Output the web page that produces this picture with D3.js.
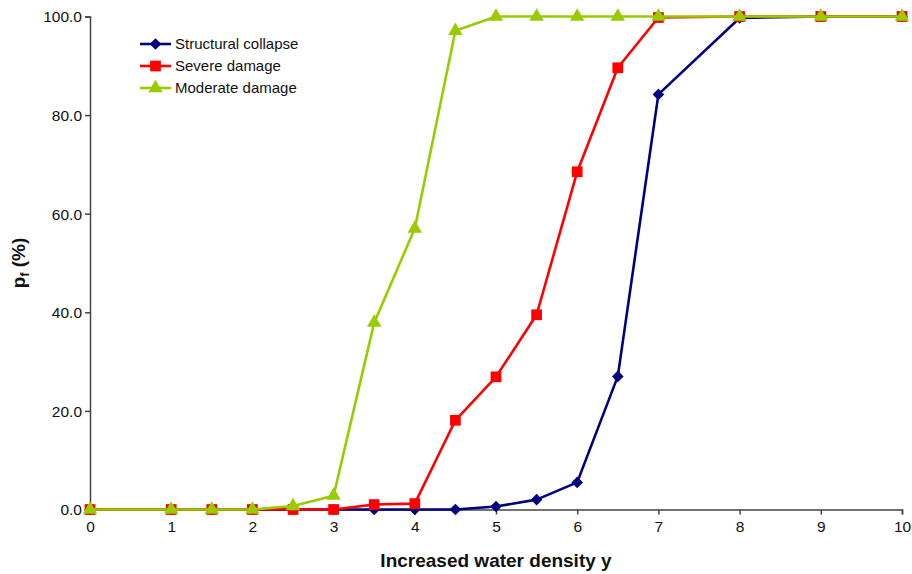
<!DOCTYPE html>
<html>
<head>
<meta charset="utf-8">
<script src="https://cdn.jsdelivr.net/npm/d3@7"></script>
<style>
    body { margin: 0; background: #fff; }
    svg { font-family: "Liberation Sans", Arial, sans-serif; }
</style>
</head>
<body>
<script>
(function() {

    var xValues = [0, 1, 1.5, 2, 2.5, 3, 3.5, 4, 4.5, 5, 5.5, 6, 6.5, 7, 8, 9, 10];
    var collapse = [0, 0, 0, 0, 0, 0, 0, 0, 0, 0.6, 2.0, 5.5, 27.0, 84.2, 99.7, 100, 100];
    var severe = [0, 0, 0, 0, 0, 0, 1.0, 1.2, 18.1, 26.9, 39.5, 68.5, 89.6, 99.8, 100, 100, 100];
    var moderate = [0, 0, 0, 0, 0.7, 2.8, 37.9, 57.0, 97.1, 100, 100, 100, 100, 100, 100, 100, 100];
    var xTicks = [0, 1, 2, 3, 4, 5, 6, 7, 8, 9, 10];
    var yTicks = [0, 20, 40, 60, 80, 100];

    var series = [
        {name: "Structural collapse", values: collapse, color: "#000080", symbol: d3.symbolDiamond2, size: 85},
        {name: "Severe damage", values: severe, color: "#ff0000", symbol: d3.symbolSquare, size: 115},
        {name: "Moderate damage", values: moderate, color: "#99cc00", symbol: d3.symbolTriangle, size: 90}
    ];

    var width = 912,
        height = 574,
        left = 90,
        right = 902,
        top = 16.5,
        bottom = 509.5;

    var svg = d3.select("body")
        .append("svg")
        .attr("width", width)
        .attr("height", height);

    var x = d3.scaleLinear().domain([0, 10]).range([left, right]);
    var y = d3.scaleLinear().domain([0, 100]).range([bottom, top]);

    // axes
    var xAxis = svg.append("g")
        .attr("transform", "translate(0," + bottom + ")")
        .call(d3.axisBottom(x).tickValues(xTicks).tickSize(5).tickPadding(6).tickFormat(d3.format("d")));
    var yAxis = svg.append("g")
        .attr("transform", "translate(" + left + ",0)")
        .call(d3.axisLeft(y).tickValues(yTicks).tickSize(5).tickPadding(3).tickFormat(d3.format(".1f")));

    [xAxis, yAxis].forEach(function(ax){
        ax.selectAll("path, line").attr("stroke", "#444").attr("stroke-width", 1.5);
        ax.selectAll("text").attr("fill", "#111").style("font-size", "15.5px");
    });
    yAxis.selectAll("text").attr("dy", "0.35em");

    // lines
    var line = d3.line()
        .x(function(d, i){ return x(xValues[i]); })
        .y(function(d){ return y(d); });

    series.forEach(function(s){
        var g = svg.append("g");
        g.append("path")
            .datum(s.values)
            .attr("fill", "none")
            .attr("stroke", s.color)
            .attr("stroke-width", 2.6)
            .attr("stroke-linejoin", "round")
            .attr("d", line);
        g.selectAll("path.mark")
            .data(s.values)
            .enter()
            .append("path")
            .attr("class", "mark")
            .attr("d", d3.symbol().type(s.symbol).size(s.size))
            .attr("fill", s.color)
            .attr("transform", function(d, i){
                return "translate(" + x(xValues[i]) + "," + y(d) + ")";
            });
    });

    // legend
    var legend = svg.append("g").attr("transform", "translate(140,44)");
    series.forEach(function(s, i){
        var row = legend.append("g").attr("transform", "translate(0," + (i * 22) + ")");
        row.append("line")
            .attr("x1", 0).attr("x2", 31)
            .attr("stroke", s.color).attr("stroke-width", 2.6);
        row.append("path")
            .attr("d", d3.symbol().type(s.symbol).size(s.size))
            .attr("fill", s.color)
            .attr("transform", "translate(15.5,0)");
        row.append("text")
            .attr("x", 35)
            .attr("dy", "0.35em")
            .style("font-size", "15px")
            .attr("fill", "#111")
            .text(s.name);
    });

    // axis titles
    svg.append("text")
        .attr("x", (left + right) / 2)
        .attr("y", 567)
        .attr("text-anchor", "middle")
        .style("font-size", "19px")
        .style("font-weight", "bold")
        .attr("fill", "#111")
        .text("Increased water density y");

    var yTitle = svg.append("text")
        .attr("transform", "translate(25," + ((top + bottom) / 2) + ") rotate(-90)")
        .attr("text-anchor", "middle")
        .style("font-size", "19px")
        .style("font-weight", "bold")
        .attr("fill", "#111");
    yTitle.append("tspan").text("p");
    yTitle.append("tspan").attr("dy", "4").style("font-size", "12px").text("f");
    yTitle.append("tspan").attr("dy", "-4").text(" (%)");

})();
</script>
</body>
</html>
